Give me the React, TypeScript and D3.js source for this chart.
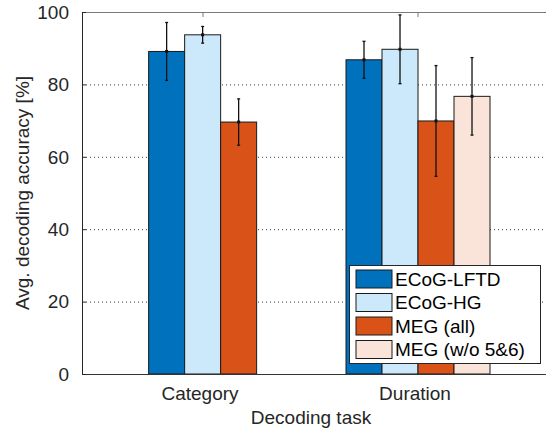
import React from "react";
import * as d3 from "d3";

const categories = ["Category", "Duration"];
const seriesNames = ["ECoG-LFTD", "ECoG-HG", "MEG (all)", "MEG (w/o 5&6)"];
const seriesColors = ["#0072BD", "#CCE8FB", "#D95319", "#FAE3D9"];
// values per series, per category
const valuesLFTD = [89.1, 86.8];
const valuesHG = [93.7, 89.7];
const valuesMEGall = [69.6, 69.9];
const valuesMEGwo = [0, 76.7];
const errLFTD = [8.0, 5.1];
const errHG = [2.3, 9.5];
const errMEGall = [6.4, 15.3];
const errMEGwo = [0, 10.7];
const yTicks = [0, 20, 40, 60, 80, 100];

const seriesValues = [valuesLFTD, valuesHG, valuesMEGall, valuesMEGwo];
const seriesErr = [errLFTD, errHG, errMEGall, errMEGwo];
// group offset (in category units) of each bar group relative to its tick
const groupShift = [0.082, 0];

const W = 550;
const H = 428;
const M = { left: 82, right: 546, top: 12, bottom: 374 };
const FONT = "'Liberation Sans', Arial, Helvetica, sans-serif";
const TXT = "#262626";

export default function App() {
  const y = d3.scaleLinear().domain([0, 100]).range([M.bottom, M.top]);
  const x = d3.scaleLinear().domain([0.4372, 2.5953]).range([M.left, M.right]);
  const barW = 36 / 215; // in category units
  const band = d3
    .scaleBand<number>()
    .domain(d3.range(seriesNames.length))
    .range([-2 * barW, 2 * barW]);

  const bars: any[] = [];
  const errs: any[] = [];
  categories.forEach((c, ci) => {
    seriesNames.forEach((s, si) => {
      const v = seriesValues[si][ci];
      const e = seriesErr[si][ci];
      const cx0 = ci + 1 + groupShift[ci] + (band(si) as number);
      const x0 = x(cx0);
      const x1 = x(cx0 + band.bandwidth());
      bars.push(
        <rect
          key={`b${ci}-${si}`}
          x={x0}
          y={y(v)}
          width={x1 - x0}
          height={y(0) - y(v)}
          fill={seriesColors[si]}
          stroke="#1a1a1a"
          strokeWidth={1}
        />
      );
      if (e > 0) {
        const xm = (x0 + x1) / 2;
        errs.push(
          <g key={`e${ci}-${si}`} stroke="#111" strokeWidth={1.3}>
            <line x1={xm} x2={xm} y1={y(v - e)} y2={y(v + e)} />
            <line x1={xm - 1.5} x2={xm + 1.5} y1={y(v - e)} y2={y(v - e)} />
            <line x1={xm - 1.5} x2={xm + 1.5} y1={y(v + e)} y2={y(v + e)} />
            <rect x={xm - 1.5} y={y(v) - 1.5} width={3} height={3} fill="#111" stroke="none" />
          </g>
        );
      }
    });
  });

  const legX = 349.5;
  const legY = 265.5;
  const legW = 191;
  const legH = 98;
  const rowH = 23.5;

  return (
    <svg
      width={W}
      height={H}
      style={{ position: "absolute", left: 0, top: 0, background: "#fff" }}
      fontFamily={FONT}
    >
      <rect x={0} y={0} width={W} height={H} fill="#fff" />
      {/* grid */}
      {yTicks
        .filter((t) => t > 0 && t < 100)
        .map((t) => (
          <line
            key={`g${t}`}
            x1={M.left}
            x2={M.right}
            y1={y(t) + 0.5}
            y2={y(t) + 0.5}
            stroke="#3a3a3a"
            strokeWidth={1}
            strokeDasharray="1 3"
          />
        ))}
      {/* top line */}
      <line x1={M.left} x2={M.right} y1={y(100) + 0.5} y2={y(100) + 0.5} stroke="#7a7a7a" strokeWidth={1.2} />
      {/* top x ticks */}
      {categories.map((c, i) => (
        <line
          key={`tt${i}`}
          x1={x(i + 1)}
          x2={x(i + 1)}
          y1={M.top}
          y2={M.top + 5}
          stroke="#7a7a7a"
          strokeWidth={1}
        />
      ))}
      {bars}
      {errs}
      {/* axes */}
      <line x1={M.left} x2={M.right} y1={y(0) + 0.5} y2={y(0) + 0.5} stroke="#333" strokeWidth={1.2} />
      <line x1={M.left + 0.5} x2={M.left + 0.5} y1={M.top} y2={M.bottom} stroke="#262626" strokeWidth={1} />
      {yTicks.map((t) => (
        <g key={`yt${t}`}>
          <line x1={M.left} x2={M.left + 4} y1={y(t) + 0.5} y2={y(t) + 0.5} stroke="#262626" />
          <text
            x={69}
            y={y(t)}
            dy="0.36em"
            textAnchor="end"
            fontSize={19}
            fill={TXT}
          >
            {t}
          </text>
        </g>
      ))}
      {categories.map((c, i) => (
        <text
          key={`xl${i}`}
          x={x(i + 1) - 3}
          y={400}
          textAnchor="middle"
          fontSize={19}
          fill={TXT}
        >
          {c}
        </text>
      ))}
      <text x={311} y={423.5} textAnchor="middle" fontSize={19} fill={TXT}>
        Decoding task
      </text>
      <text
        transform={`translate(29,${(M.top + M.bottom) / 2}) rotate(-90)`}
        textAnchor="middle"
        fontSize={19}
        fill={TXT}
      >
        Avg. decoding accuracy [%]
      </text>
      {/* legend */}
      <rect x={legX} y={legY} width={legW} height={legH} fill="#fff" stroke="#262626" strokeWidth={1} />
      {seriesNames.map((s, i) => (
        <g key={`lg${i}`}>
          <rect
            x={356}
            y={270 + i * rowH}
            width={36}
            height={18}
            fill={seriesColors[i]}
            stroke="#1a1a1a"
            strokeWidth={1}
          />
          <text x={395} y={279 + i * rowH} dy="0.36em" fontSize={19} fill="#000">
            {s}
          </text>
        </g>
      ))}
    </svg>
  );
}
